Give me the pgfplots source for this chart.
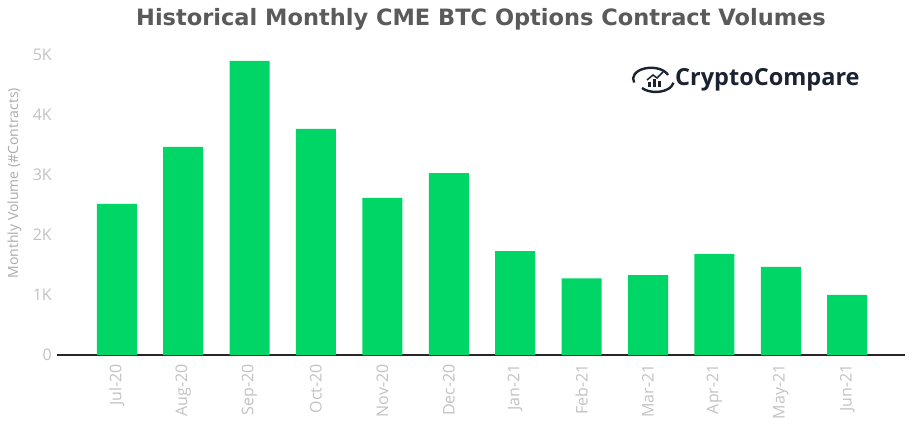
\documentclass[border=0pt]{standalone}
\usepackage{pgfplots}
\pgfplotsset{compat=1.18}
\usepackage{fontspec}
\setmainfont{Open Sans}
\newfontfamily\titlefont{DejaVu Sans}
\definecolor{bargreen}{HTML}{00D666}
\definecolor{ticktext}{HTML}{C2C2C2}
\definecolor{labeltext}{HTML}{ABABAB}
\definecolor{titletext}{HTML}{5A5A5A}
\definecolor{logonavy}{HTML}{1B2232}

\pgfplotstableread{
idx volume
0  2517
1  3467
2  4900
3  3767
4  2617
5  3033
6  1733
7  1278
8  1333
9  1683
10 1467
11 1000
}\volumes

\begin{document}
\begin{tikzpicture}
\path[use as bounding box] (0,0) rectangle (913bp,425bp);
\begin{axis}[
    at={(57bp,70bp)}, anchor=south west,
    scale only axis,
    width=848bp, height=300bp,
    ybar, bar width=40bp,
    xmin=-0.9, xmax=11.87,
    ymin=0, ymax=5000,
    axis x line*=bottom,
    axis y line*=left,
    x axis line style={black!85, line width=1.3bp},
    y axis line style={draw=none},
    major tick length=0pt,
    xtick=data,
    xticklabels={Jul-20,Aug-20,Sep-20,Oct-20,Nov-20,Dec-20,Jan-21,Feb-21,Mar-21,Apr-21,May-21,Jun-21},
    xticklabel style={rotate=90, anchor=east, font=\fontsize{16bp}{18bp}\selectfont, text=ticktext, inner sep=0pt, xshift=-9bp},
    ytick={0,1000,2000,3000,4000,5000},
    yticklabels={0,1K,2K,3K,4K,5K},
    yticklabel style={font=\fontsize{16bp}{18bp}\selectfont, text=ticktext, inner sep=0pt, xshift=-5bp},
    ylabel={Monthly Volume (\#Contracts)},
    ylabel style={at={(axis description cs:-0.0415,0.573)}, anchor=south, rotate=0, inner sep=0pt,
        font=\fontsize{14bp}{16bp}\selectfont, text=labeltext},
    clip=false,
]
\addplot[fill=bargreen, draw=none] table[x=idx, y=volume] {\volumes};
\end{axis}
% title
\node[font=\titlefont\bfseries\fontsize{22.5bp}{26bp}\selectfont, text=titletext, inner sep=0pt]
    at (481bp,406bp) {Historical Monthly CME BTC Options Contract Volumes};
% logo
\begin{scope}[logonavy]
  \draw[line width=2.4bp] (668bp,350bp) arc[start angle=20, end angle=200, x radius=18bp, y radius=11bp];
  \draw[line width=2.4bp] (642bp,337bp) arc[start angle=220, end angle=350, x radius=18bp, y radius=11bp];
  \fill (648bp,338bp) rectangle (651bp,343bp);
  \fill (653bp,338bp) rectangle (656bp,346bp);
  \fill (658bp,338bp) rectangle (661bp,344bp);
  \draw[line width=1.5bp] (647bp,345bp) -- (653bp,350bp) -- (657bp,347bp) -- (663bp,353bp);
  \node[anchor=west, inner sep=0pt, font=\bfseries\fontsize{23.5bp}{26bp}\selectfont] at (675bp,345bp) {CryptoCompare};
\end{scope}
\end{tikzpicture}
\end{document}
